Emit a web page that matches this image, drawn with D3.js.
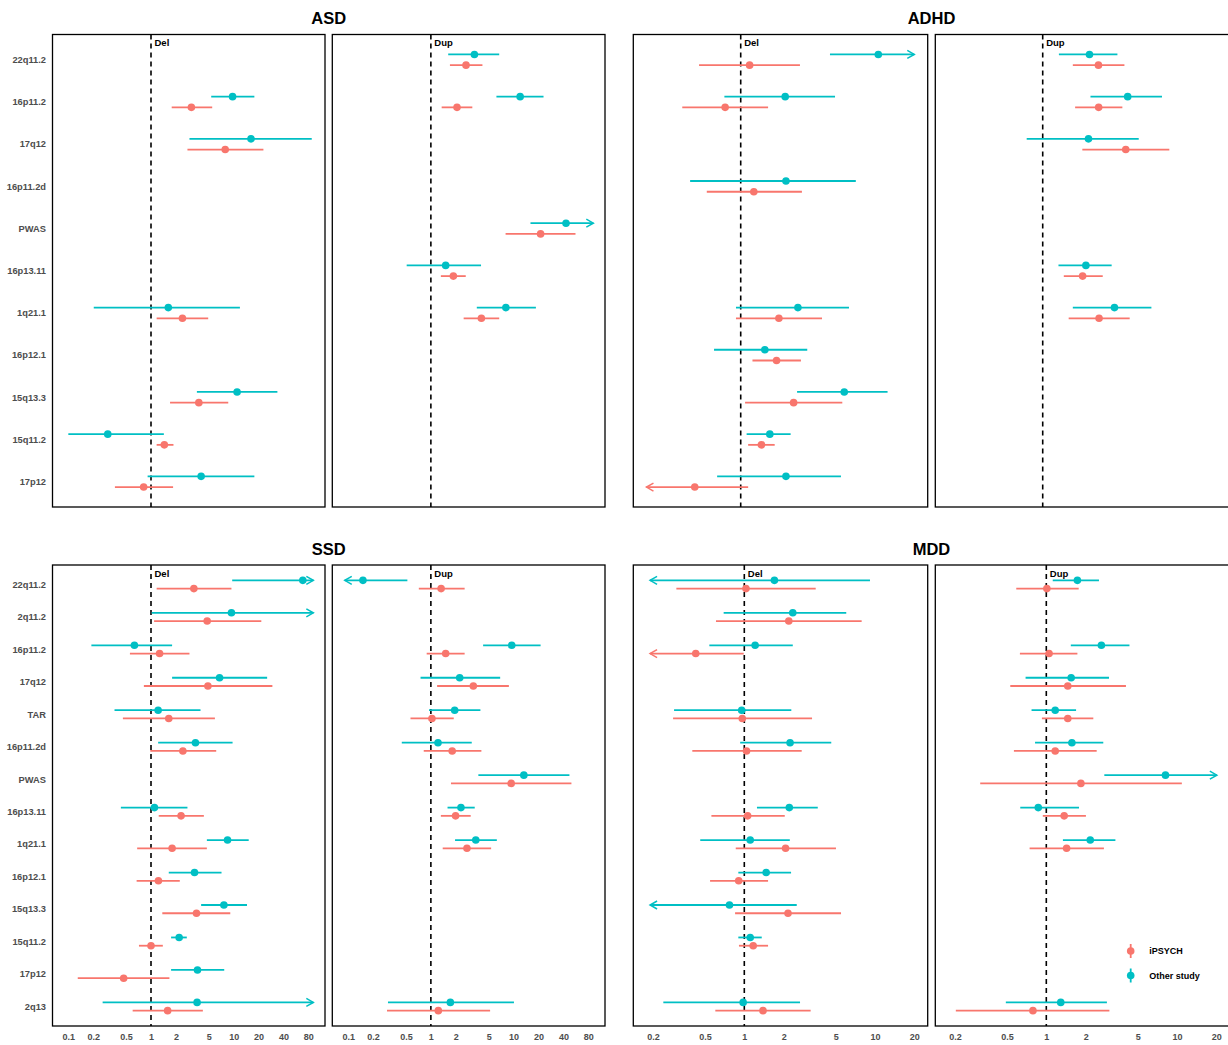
<!DOCTYPE html>
<html>
<head>
<meta charset="utf-8">
<script src="https://cdn.jsdelivr.net/npm/d3@7"></script>
<style>
  body { margin: 0; background: #fff; }
  svg { display: block; }
  text { font-family: "Liberation Sans", Arial, Helvetica, sans-serif; font-weight: bold; }
</style>
</head>
<body>
<svg id="chart" width="1228" height="1045"></svg>
<script>
// ---- Data: odds ratios with 95% CI, per disorder and CNV type ----
// Each row: [CNV locus, study, OR, CI lower, CI upper]
const studies = ["iPSYCH", "Other study"];
const lociTop = ["22q11.2", "16p11.2", "17q12", "16p11.2d", "PWAS", "16p13.11",
                 "1q21.1", "16p12.1", "15q13.3", "15q11.2", "17p12"];
const lociBottom = ["22q11.2", "2q11.2", "16p11.2", "17q12", "TAR", "16p11.2d", "PWAS",
                    "16p13.11", "1q21.1", "16p12.1", "15q13.3", "15q11.2", "17p12", "2q13"];
const ticksWide = [0.1, 0.2, 0.5, 1, 2, 5, 10, 20, 40, 80];
const ticksNarrow = [0.2, 0.5, 1, 2, 5, 10, 20];

const asdDel = [
  ["16p11.2", "Other study", 9.7, 5.35, 17.8],
  ["16p11.2", "iPSYCH", 3.08, 1.78, 5.5],
  ["17q12", "Other study", 16.2, 2.92, 88],
  ["17q12", "iPSYCH", 7.9, 2.76, 22.9],
  ["1q21.1", "Other study", 1.62, 0.203, 11.9],
  ["1q21.1", "iPSYCH", 2.4, 1.17, 4.92],
  ["15q13.3", "Other study", 11, 3.59, 33.8],
  ["15q13.3", "iPSYCH", 3.79, 1.7, 8.6],
  ["15q11.2", "Other study", 0.30, 0.10, 1.43],
  ["15q11.2", "iPSYCH", 1.45, 1.17, 1.87],
  ["17p12", "Other study", 4.04, 0.91, 17.8],
  ["17p12", "iPSYCH", 0.815, 0.366, 1.85]
];
const asdDup = [
  ["22q11.2", "Other study", 3.36, 1.62, 6.7],
  ["22q11.2", "iPSYCH", 2.66, 1.70, 4.2],
  ["16p11.2", "Other study", 12.0, 6.2, 23],
  ["16p11.2", "iPSYCH", 2.07, 1.35, 3.17],
  ["PWAS", "Other study", 43, 16, 200],
  ["PWAS", "iPSYCH", 21.2, 8.0, 56],
  ["16p13.11", "Other study", 1.51, 0.51, 4.04],
  ["16p13.11", "iPSYCH", 1.87, 1.32, 2.64],
  ["1q21.1", "Other study", 8.06, 3.59, 18.6],
  ["1q21.1", "iPSYCH", 4.08, 2.49, 6.7]
];
const adhdDel = [
  ["22q11.2", "Other study", 11.3, 4.82, 40],
  ["22q11.2", "iPSYCH", 1.17, 0.48, 2.84],
  ["16p11.2", "Other study", 2.19, 0.75, 5.27],
  ["16p11.2", "iPSYCH", 0.76, 0.357, 1.62],
  ["16p11.2d", "Other study", 2.22, 0.41, 7.6],
  ["16p11.2d", "iPSYCH", 1.26, 0.55, 2.94],
  ["1q21.1", "Other study", 2.74, 0.92, 6.74],
  ["1q21.1", "iPSYCH", 1.96, 0.92, 4.19],
  ["16p12.1", "Other study", 1.53, 0.625, 3.23],
  ["16p12.1", "iPSYCH", 1.88, 1.23, 2.89],
  ["15q13.3", "Other study", 6.2, 2.7, 13.3],
  ["15q13.3", "iPSYCH", 2.54, 1.08, 5.99],
  ["15q11.2", "Other study", 1.67, 1.11, 2.41],
  ["15q11.2", "iPSYCH", 1.44, 1.14, 1.82],
  ["17p12", "Other study", 2.22, 0.66, 5.85],
  ["17p12", "iPSYCH", 0.445, 0.08, 1.14]
];
const adhdDup = [
  ["22q11.2", "Other study", 2.28, 1.33, 3.73],
  ["22q11.2", "iPSYCH", 2.67, 1.70, 4.22],
  ["16p11.2", "Other study", 4.47, 2.32, 8.18],
  ["16p11.2", "iPSYCH", 2.68, 1.77, 4.07],
  ["17q12", "Other study", 2.24, 0.754, 5.43],
  ["17q12", "iPSYCH", 4.32, 2.01, 9.31],
  ["16p13.11", "Other study", 2.14, 1.32, 3.37],
  ["16p13.11", "iPSYCH", 2.02, 1.45, 2.88],
  ["1q21.1", "Other study", 3.54, 1.70, 6.79],
  ["1q21.1", "iPSYCH", 2.70, 1.58, 4.63]
];
const ssdDel = [
  ["22q11.2", "Other study", 68.6, 9.6, 400],
  ["22q11.2", "iPSYCH", 3.3, 1.17, 9.4],
  ["2q11.2", "Other study", 9.4, 1.02, 300],
  ["2q11.2", "iPSYCH", 4.78, 1.09, 21.6],
  ["16p11.2", "Other study", 0.63, 0.19, 1.8],
  ["16p11.2", "iPSYCH", 1.27, 0.556, 2.92],
  ["17q12", "Other study", 6.75, 1.8, 25.4],
  ["17q12", "iPSYCH", 4.88, 0.82, 29.4],
  ["TAR", "Other study", 1.22, 0.362, 3.97],
  ["TAR", "iPSYCH", 1.64, 0.457, 5.93],
  ["16p11.2d", "Other study", 3.45, 1.22, 9.7],
  ["16p11.2d", "iPSYCH", 2.43, 0.98, 6.15],
  ["16p13.11", "Other study", 1.1, 0.432, 2.76],
  ["16p13.11", "iPSYCH", 2.31, 1.24, 4.36],
  ["1q21.1", "Other study", 8.43, 4.74, 15.2],
  ["1q21.1", "iPSYCH", 1.8, 0.68, 4.74],
  ["16p12.1", "Other study", 3.36, 1.64, 7.13],
  ["16p12.1", "iPSYCH", 1.23, 0.67, 2.23],
  ["15q13.3", "Other study", 7.62, 4.04, 14.5],
  ["15q13.3", "iPSYCH", 3.55, 1.37, 9.1],
  ["15q11.2", "Other study", 2.19, 1.75, 2.71],
  ["15q11.2", "iPSYCH", 1.0, 0.715, 1.39],
  ["17p12", "Other study", 3.65, 1.75, 7.69],
  ["17p12", "iPSYCH", 0.467, 0.13, 1.67],
  ["2q13", "Other study", 3.61, 0.26, 150],
  ["2q13", "iPSYCH", 1.59, 0.6, 4.24]
];
const ssdDup = [
  ["22q11.2", "Other study", 0.151, 0.03, 0.52],
  ["22q11.2", "iPSYCH", 1.33, 0.715, 2.56],
  ["16p11.2", "Other study", 9.5, 4.28, 21.2],
  ["16p11.2", "iPSYCH", 1.51, 0.89, 2.56],
  ["17q12", "Other study", 2.23, 0.75, 6.88],
  ["17q12", "iPSYCH", 3.26, 1.19, 8.77],
  ["TAR", "Other study", 1.94, 0.95, 3.97],
  ["TAR", "iPSYCH", 1.03, 0.567, 1.89],
  ["16p11.2d", "Other study", 1.22, 0.445, 3.12],
  ["16p11.2d", "iPSYCH", 1.81, 0.82, 4.08],
  ["PWAS", "Other study", 13.3, 3.75, 47.3],
  ["PWAS", "iPSYCH", 9.35, 1.75, 50],
  ["16p13.11", "Other study", 2.31, 1.59, 3.39],
  ["16p13.11", "iPSYCH", 1.99, 1.32, 3.03],
  ["1q21.1", "Other study", 3.49, 1.96, 6.27],
  ["1q21.1", "iPSYCH", 2.73, 1.39, 5.35],
  ["2q13", "Other study", 1.72, 0.303, 10.1],
  ["2q13", "iPSYCH", 1.23, 0.295, 5.2]
];
const mddDel = [
  ["22q11.2", "Other study", 1.7, 0.05, 9.16],
  ["22q11.2", "iPSYCH", 1.03, 0.302, 3.52],
  ["2q11.2", "Other study", 2.35, 0.695, 6.03],
  ["2q11.2", "iPSYCH", 2.19, 0.607, 7.91],
  ["16p11.2", "Other study", 1.21, 0.54, 2.35],
  ["16p11.2", "iPSYCH", 0.425, 0.08, 0.99],
  ["TAR", "Other study", 0.955, 0.29, 2.29],
  ["TAR", "iPSYCH", 0.965, 0.285, 3.3],
  ["16p11.2d", "Other study", 2.24, 0.93, 4.63],
  ["16p11.2d", "iPSYCH", 1.04, 0.4, 2.75],
  ["16p13.11", "Other study", 2.21, 1.25, 3.65],
  ["16p13.11", "iPSYCH", 1.06, 0.56, 2.04],
  ["1q21.1", "Other study", 1.11, 0.46, 2.23],
  ["1q21.1", "iPSYCH", 2.07, 0.86, 5.03],
  ["16p12.1", "Other study", 1.47, 0.9, 2.28],
  ["16p12.1", "iPSYCH", 0.906, 0.547, 1.52],
  ["15q13.3", "Other study", 0.77, 0.1, 2.52],
  ["15q13.3", "iPSYCH", 2.16, 0.85, 5.5],
  ["15q11.2", "Other study", 1.11, 0.9, 1.36],
  ["15q11.2", "iPSYCH", 1.17, 0.91, 1.52],
  ["2q13", "Other study", 0.98, 0.24, 2.67],
  ["2q13", "iPSYCH", 1.39, 0.6, 3.22]
];
const mddDup = [
  ["22q11.2", "Other study", 1.73, 1.12, 2.53],
  ["22q11.2", "iPSYCH", 1.01, 0.589, 1.77],
  ["16p11.2", "Other study", 2.64, 1.54, 4.33],
  ["16p11.2", "iPSYCH", 1.05, 0.628, 1.73],
  ["17q12", "Other study", 1.55, 0.694, 3.02],
  ["17q12", "iPSYCH", 1.46, 0.53, 4.07],
  ["TAR", "Other study", 1.17, 0.771, 1.69],
  ["TAR", "iPSYCH", 1.46, 0.925, 2.29],
  ["16p11.2d", "Other study", 1.57, 0.82, 2.73],
  ["16p11.2d", "iPSYCH", 1.17, 0.565, 2.43],
  ["PWAS", "Other study", 8.17, 2.78, 40],
  ["PWAS", "iPSYCH", 1.84, 0.312, 10.9],
  ["16p13.11", "Other study", 0.868, 0.632, 1.78],
  ["16p13.11", "iPSYCH", 1.37, 0.94, 2.01],
  ["1q21.1", "Other study", 2.17, 1.34, 3.38],
  ["1q21.1", "iPSYCH", 1.43, 0.745, 2.76],
  ["2q13", "Other study", 1.29, 0.49, 2.91],
  ["2q13", "iPSYCH", 0.79, 0.203, 3.04]
];

// ---- Appearance ----
const colour = d3.scaleOrdinal().domain(studies).range(["#F8766D", "#00BFC4"]);
const axisGrey = "#4D4D4D";

// Log x ranges: plotted limits (arrows beyond) and the visible domain
const xWide   = { clip: [0.091, 92],   domain: [Math.pow(10, -1.1915), Math.pow(10, 2.1048)] };
const xAdhd   = { clip: [0.19, 21.3],  domain: [Math.pow(10, -0.822),  Math.pow(10, 1.431)] };
const xMdd    = { clip: [0.19, 20.2],  domain: [Math.pow(10, -0.8496), Math.pow(10, 1.4037)] };

const rows = { top: [34.5, 507], bottom: [565, 1026] };
const cols = {
  left:  { Del: [52.5, 325],   Dup: [332.3, 605],    centre: 328.7 },
  right: { Del: [633.3, 927.7], Dup: [935.3, 1229.7], centre: 931.5 }
};

const figures = [
  { title: "ASD",  panels: { Del: asdDel,  Dup: asdDup },  loci: lociTop,    row: "top",    col: "left",  x: xWide, yLabels: true,  ticks: null },
  { title: "ADHD", panels: { Del: adhdDel, Dup: adhdDup }, loci: lociTop,    row: "top",    col: "right", x: xAdhd, yLabels: false, ticks: null },
  { title: "SSD",  panels: { Del: ssdDel,  Dup: ssdDup },  loci: lociBottom, row: "bottom", col: "left",  x: xWide, yLabels: true,  ticks: ticksWide },
  { title: "MDD",  panels: { Del: mddDel,  Dup: mddDup },  loci: lociBottom, row: "bottom", col: "right", x: xMdd,  yLabels: false, ticks: ticksNarrow }
];

const svg = d3.select("#chart");

function arrowHead(xTip, y, dir) {
  // open chevron pointing in direction dir (+1 right, -1 left)
  const len = 7, half = 4;
  return `M${xTip - dir * len},${y - half}L${xTip},${y}L${xTip - dir * len},${y + half}`;
}

figures.forEach(fig => {
  const [y0, y1] = rows[fig.row];
  const col = cols[fig.col];

  svg.append("text")
    .attr("x", col.centre).attr("y", y0 - 10.5)
    .attr("text-anchor", "middle")
    .attr("font-size", 16.5)
    .attr("fill", "#000")
    .text(fig.title);

  const yScale = d3.scalePoint().domain(fig.loci).range([y0, y1]).padding(0.6);
  const dodge = yScale.step() * 0.127;
  const yOf = d => yScale(d.locus) + (d.study === "Other study" ? -dodge : dodge);

  ["Del", "Dup"].forEach(type => {
    const [xa, xb] = col[type];
    const x = d3.scaleLog().domain(fig.x.domain).range([xa, xb]);
    const [cLo, cHi] = fig.x.clip;
    const g = svg.append("g");

    // reference line at OR = 1
    g.append("line")
      .attr("x1", x(1)).attr("x2", x(1))
      .attr("y1", y0).attr("y2", y1)
      .attr("stroke", "#000").attr("stroke-width", 1.6)
      .attr("stroke-dasharray", "5,4");

    // panel label
    g.append("text")
      .attr("x", x(1) + 3.5).attr("y", y0 + 11.8)
      .attr("font-size", 9.5).attr("fill", "#000")
      .text(type);

    const data = fig.panels[type].map(r => ({ locus: r[0], study: r[1], or: r[2], lo: r[3], hi: r[4] }));

    const marks = g.selectAll("g.mark").data(data).join("g").attr("class", "mark");
    marks.append("line")
      .attr("x1", d => x(Math.max(d.lo, cLo)))
      .attr("x2", d => x(Math.min(d.hi, cHi)))
      .attr("y1", yOf).attr("y2", yOf)
      .attr("stroke", d => colour(d.study))
      .attr("stroke-width", 1.8);
    marks.filter(d => d.hi > cHi).append("path")
      .attr("d", d => arrowHead(x(cHi), yOf(d), 1))
      .attr("fill", "none").attr("stroke", d => colour(d.study)).attr("stroke-width", 1.5);
    marks.filter(d => d.lo < cLo).append("path")
      .attr("d", d => arrowHead(x(cLo), yOf(d), -1))
      .attr("fill", "none").attr("stroke", d => colour(d.study)).attr("stroke-width", 1.5);
    marks.append("circle")
      .attr("cx", d => x(d.or)).attr("cy", yOf)
      .attr("r", 3.8)
      .attr("fill", d => colour(d.study));

    // panel border
    g.append("rect")
      .attr("x", xa).attr("y", y0)
      .attr("width", xb - xa).attr("height", y1 - y0)
      .attr("fill", "none").attr("stroke", "#000").attr("stroke-width", 1.3);

    // y-axis locus labels on the deletion panel
    if (fig.yLabels && type === "Del") {
      svg.append("g").selectAll("text").data(fig.loci).join("text")
        .attr("x", xa - 6.5).attr("y", d => yScale(d))
        .attr("dy", "0.35em")
        .attr("text-anchor", "end")
        .attr("font-size", 9.3)
        .attr("fill", axisGrey)
        .text(d => d);
    }

    // x-axis tick labels (bottom row only)
    if (fig.ticks) {
      const ax = svg.append("g")
        .attr("transform", `translate(0,${y1})`)
        .call(d3.axisBottom(x).tickValues(fig.ticks).tickSize(0).tickPadding(7.6)
          .tickFormat(d => String(d)));
      ax.select(".domain").remove();
      ax.selectAll("text")
        .attr("font-size", 9)
        .attr("font-family", "'Liberation Sans', Arial, sans-serif")
        .attr("font-weight", "bold")
        .attr("fill", axisGrey);
    }
  });
});

// legend
const legend = svg.append("g").attr("transform", "translate(1130.7,951)");
studies.forEach((s, i) => {
  const row = legend.append("g").attr("transform", `translate(0,${i * 24.5})`);
  row.append("line").attr("y1", -7).attr("y2", 7)
    .attr("stroke", colour(s)).attr("stroke-width", 1.8);
  row.append("circle").attr("r", 3.8).attr("fill", colour(s));
  row.append("text").attr("x", 18.6).attr("dy", "0.35em")
    .attr("font-size", 9).attr("fill", "#000").text(s);
});
</script>
</body>
</html>
